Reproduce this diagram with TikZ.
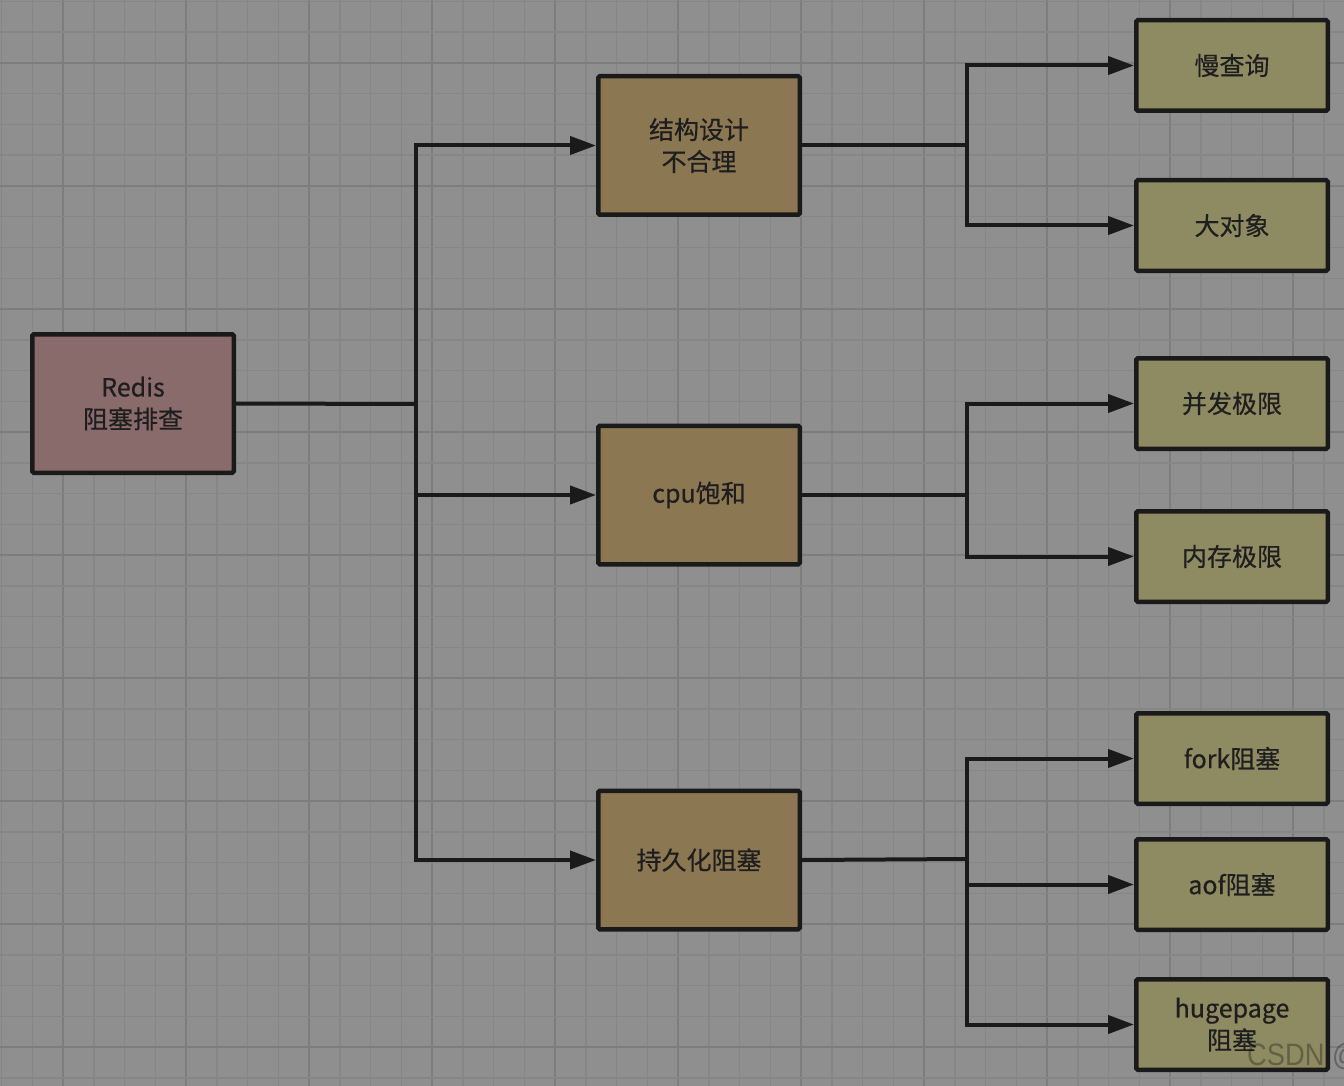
\documentclass[tikz,border=0pt]{standalone}
\usepackage{fontspec}
\setmainfont{Noto Sans CJK SC}[BoldFont={Noto Sans CJK SC},BoldFeatures={FakeBold=0.5}]
\newfontfamily\wmfont{Liberation Sans}
\usetikzlibrary{arrows.meta}
\definecolor{bgc}{HTML}{8F8F8F}
\definecolor{minorc}{HTML}{868686}
\definecolor{majorc}{HTML}{7D7D7D}
\definecolor{rootc}{HTML}{8A6B6B}
\definecolor{midc}{HTML}{8C7753}
\definecolor{leafc}{HTML}{8E8A62}
\definecolor{edgec}{HTML}{1A1A1A}
\definecolor{txtc}{HTML}{1E1E1E}
\tikzset{
  boxbase/.style={draw=edgec, line width=4.5pt, rounded corners=1.5pt, align=center,
    text=txtc, font=\fontsize{25}{32}\selectfont\bfseries, inner sep=0pt},
  rootbox/.style={boxbase, fill=rootc, minimum width=201.5pt, minimum height=138.5pt},
  midbox/.style={boxbase, fill=midc, minimum width=201.5pt, minimum height=138.5pt},
  leafbox/.style={boxbase, fill=leafc, minimum width=191.5pt, minimum height=90.5pt},
  conn/.style={draw=edgec, line width=4pt},
  arr/.style={conn, -{Triangle[length=26pt,width=18pt]}},
}
\begin{document}
\begin{tikzpicture}[x=1pt,y=-1pt]
\fill[bgc] (0,0) rectangle (1344,1086);
\useasboundingbox (0,0) rectangle (1344,1086);
\begin{scope}
\clip (0,0) rectangle (1344,1086);
\foreach \k in {-2,...,42} {
  \pgfmathtruncatemacro{\m}{mod(\k+8,4)}
  \ifnum\m=0
    \draw[majorc, line width=2pt] ({63+30.75*\k},0) -- ++(0,1086);
  \else
    \draw[minorc, line width=1.5pt] ({63+30.75*\k},0) -- ++(0,1086);
  \fi
}
\foreach \k in {-2,...,34} {
  \pgfmathtruncatemacro{\m}{mod(\k+8,4)}
  \ifnum\m=0
    \draw[majorc, line width=2pt] (0,{63+30.75*\k}) -- ++(1344,0);
  \else
    \draw[minorc, line width=1.5pt] (0,{63+30.75*\k}) -- ++(1344,0);
  \fi
}
\end{scope}

\node[rootbox] (root) at (133,403.5) {Redis\\阻塞排查};
\node[midbox] (s1) at (699,145.5) {结构设计\\不合理};
\node[midbox] (s2) at (699,495) {cpu饱和};
\node[midbox] (s3) at (699,860) {持久化阻塞};

\node[leafbox] (l1) at (1232,65.5) {慢查询};
\node[leafbox] (l2) at (1232,225.5) {大对象};
\node[leafbox] (l3) at (1232,403.5) {并发极限};
\node[leafbox] (l4) at (1232,556.5) {内存极限};
\node[leafbox] (l5) at (1232,758.5) {fork阻塞};
\node[leafbox] (l6) at (1232,884.5) {aof阻塞};
\node[leafbox] (l7) at (1232,1024.5) {hugepage\\阻塞};

\coordinate (j0) at (416,404);
\coordinate (j1) at (967,145.5);
\coordinate (j2) at (967,495);
\coordinate (j3) at (967,859);

\draw[conn] (root.east) -- (j0);
\draw[arr] (j0) |- (s1);
\draw[arr] (j0) |- (s2);
\draw[arr] (j0) |- (s3);

\draw[conn] (s1.east) -- (j1);
\draw[arr] (j1) |- (l1);
\draw[arr] (j1) |- (l2);

\draw[conn] (s2.east) -- (j2);
\draw[arr] (j2) |- (l3);
\draw[arr] (j2) |- (l4);

\draw[conn] (s3.east) -- (j3);
\draw[arr] (j3) |- (l5);
\draw[arr] (j3) |- (l6);
\draw[arr] (j3) |- (l7);

\node[anchor=base west, inner sep=0pt, text=black, opacity=0.3, font=\wmfont\fontsize{31}{31}\selectfont, xscale=0.88] (wm) at (1247,1065) {CSDN @};
\end{tikzpicture}
\end{document}
